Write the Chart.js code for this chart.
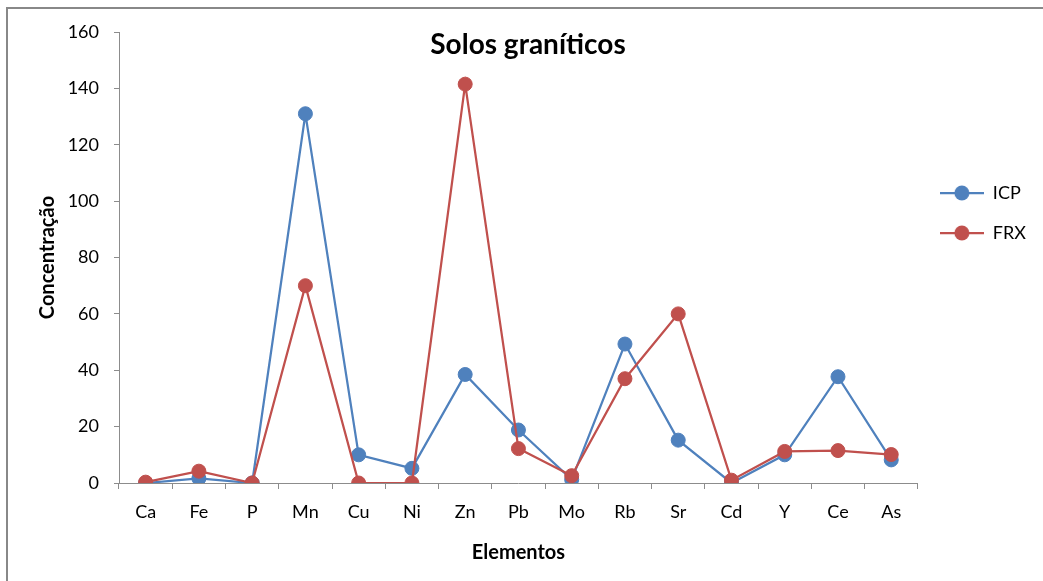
<!DOCTYPE html>
<html>
<head>
<meta charset="utf-8">
<script src="https://cdn.jsdelivr.net/npm/chart.js@4"></script>
<style>
  body { margin: 0; background: #fff; }
  #wrap { position: relative; width: 1043px; height: 581px; overflow: hidden; }
  #frame { position: absolute; left: 6px; top: 7px; width: 1100px; height: 700px;
           border-left: 2px solid #888; border-top: 2px solid #888; pointer-events: none; }
</style>
</head>
<body>
<div id="wrap">
  <canvas id="myChart" width="1043" height="581"></canvas>
  <div id="frame"></div>
</div>
<script>
const elements = ['Ca', 'Fe', 'P', 'Mn', 'Cu', 'Ni', 'Zn', 'Pb', 'Mo', 'Rb', 'Sr', 'Cd', 'Y', 'Ce', 'As'];
const icpValues = [0, 1.6, 0, 131, 10, 5.2, 38.5, 18.8, 1.2, 49.3, 15.2, 0, 10, 37.7, 8.2];
const frxValues = [0.3, 4.2, 0, 70, 0, 0, 141.5, 12.2, 2.6, 37, 60, 1, 11.2, 11.5, 10.1];
const yTicks = [0, 20, 40, 60, 80, 100, 120, 140, 160];

const blue = '#4F81BD';
const red = '#C0504D';
const axisGray = '#8C8C8C';

Chart.defaults.font.family = 'Lato, "Open Sans", sans-serif';
Chart.defaults.color = '#000';

// small line + circle swatch for the legend
const legendSwatch = (color) => {
  const c = document.createElement('canvas');
  c.width = 44;
  c.height = 16;
  const g = c.getContext('2d');
  g.strokeStyle = color;
  g.lineWidth = 2.25;
  g.beginPath();
  g.moveTo(0, 8);
  g.lineTo(44, 8);
  g.stroke();
  g.fillStyle = color;
  g.beginPath();
  g.arc(22, 8, 7.5, 0, Math.PI * 2);
  g.fill();
  return c;
};

const ctx = document.getElementById('myChart').getContext('2d');

const myChart = new Chart(ctx, {
  type: 'line',
  data: {
    labels: elements,
    datasets: [
      {
        label: 'ICP',
        data: icpValues,
        borderColor: blue,
        backgroundColor: blue,
        pointBackgroundColor: blue,
        pointBorderColor: blue,
        borderWidth: 2.25,
        pointRadius: 7,
        pointBorderWidth: 1,
        order: 1,
      },
      {
        label: 'FRX',
        data: frxValues,
        borderColor: red,
        backgroundColor: red,
        pointBackgroundColor: red,
        pointBorderColor: red,
        borderWidth: 2.25,
        pointRadius: 7,
        pointBorderWidth: 1,
        order: 0,
      },
    ],
  },
  options: {
    responsive: false,
    animation: false,
    layout: { padding: { left: 20, right: 7, top: 0, bottom: 0 } },
    plugins: {
      tooltip: { enabled: false },
      title: {
        display: true,
        text: 'Solos graníticos',
        font: { size: 28, weight: 'bold' },
        color: '#000',
        padding: { top: 28, bottom: -29.6 },
      },
      legend: {
        position: 'right',
        align: 'start',
        fullSize: false,
        title: { display: true, text: ' ', font: { size: 10 }, padding: { top: 0, bottom: 118 } },
        labels: {
          usePointStyle: true,
          pointStyleWidth: 44,
          padding: 22,
          font: { size: 18 },
          color: '#000',
          generateLabels: (chart) => {
            const items = Chart.defaults.plugins.legend.labels.generateLabels(chart);
            items.sort((a, b) => a.datasetIndex - b.datasetIndex);
            items.forEach((item) => {
              item.pointStyle = legendSwatch(chart.data.datasets[item.datasetIndex].borderColor);
            });
            return items;
          },
        },
      },
    },
    scales: {
      x: {
        offset: true,
        grid: {
          offset: true,
          drawOnChartArea: false,
          drawTicks: true,
          tickLength: 6,
          color: axisGray,
        },
        border: { color: axisGray, width: 1 },
        ticks: { font: { size: 18 }, color: '#000', padding: 12, maxRotation: 0 },
        title: {
          display: true,
          text: 'Elementos',
          font: { size: 20, weight: 'bold' },
          color: '#000',
          padding: { top: 0, bottom: 16 },
        },
        afterFit: (scale) => { scale.height = 98; },
      },
      y: {
        min: 0,
        max: 160,
        afterBuildTicks: (scale) => { scale.ticks = yTicks.map((v) => ({ value: v })); },
        grid: {
          drawOnChartArea: false,
          drawTicks: true,
          tickLength: 5,
          color: axisGray,
        },
        border: { color: axisGray, width: 1 },
        ticks: { font: { size: 18 }, color: '#000', padding: 15 },
        title: {
          display: true,
          text: 'Concentração',
          font: { size: 20, weight: 'bold' },
          color: '#000',
          padding: { top: 16, bottom: 0 },
        },
        afterFit: (scale) => { scale.width = 99; },
      },
    },
  },
});
</script>
</body>
</html>
